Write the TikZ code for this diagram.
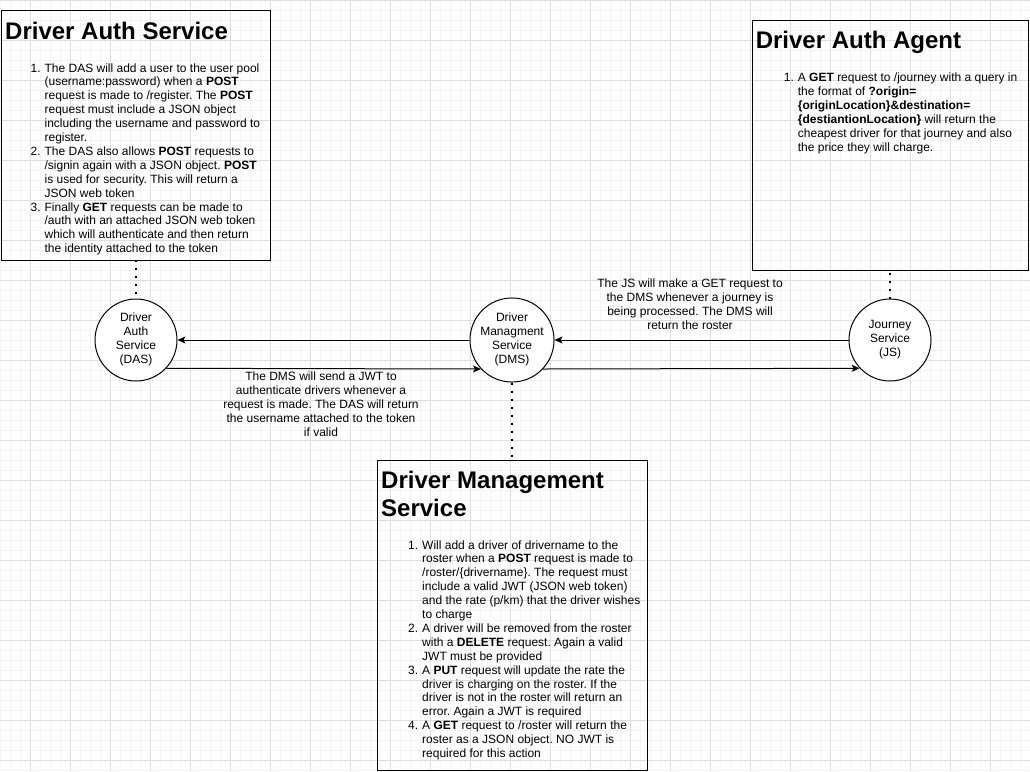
\documentclass[tikz,border=0pt]{standalone}
\usepackage{fontspec}
\setmainfont{Liberation Sans}
\usetikzlibrary{arrows.meta}
\definecolor{gmin}{RGB}{244,244,244}
\definecolor{gmaj}{RGB}{222,222,222}
\newcommand{\fsn}{\fontsize{12}{13.9}\selectfont\frenchspacing}
\newcommand{\fst}{\fontsize{24}{28.4}\selectfont\bfseries}
\newcommand{\itm}[1]{\makebox[14pt][l]{#1}}
\begin{document}
\frenchspacing
\begin{tikzpicture}[x=1pt,y=-1pt,
  box/.style={draw=black, line width=1pt, inner sep=0pt, outer sep=0pt, anchor=north west},
  svc/.style={circle, draw=black, fill=white, line width=1pt, minimum size=82pt, inner sep=0pt, font=\fsn},
  arr/.style={draw=black, line width=1pt, -{Stealth[length=8pt,width=7pt,inset=2pt]}},
  dots/.style={draw=black, line width=2pt, dash pattern=on 2pt off 6pt},
  title/.style={anchor=base west, inner sep=0pt, font=\fst},
  lst/.style={anchor=base west, inner sep=0pt, font=\fsn},
  lbl/.style={inner sep=0pt, font=\fsn}]

\useasboundingbox (0,0) rectangle (1030,771);
\fill[white] (0,0) rectangle (1030,771);
\foreach \x in {0,10,...,1030} \draw[gmin, line width=1pt] (\x+0.5,0) -- (\x+0.5,771);
\foreach \y in {0,10,...,770} \draw[gmin, line width=1pt] (0,\y+0.5) -- (1030,\y+0.5);
\foreach \x in {30,70,...,1010} \draw[gmaj, line width=1pt] (\x+0.5,0) -- (\x+0.5,771);
\foreach \y in {0,40,...,760} \draw[gmaj, line width=1pt] (0,\y+0.5) -- (1030,\y+0.5);

% boxes
\node[box, minimum width=269pt, minimum height=250pt] (dasbox) at (1.5,10) {};
\node[box, minimum width=276pt, minimum height=250pt] (daabox) at (752,20) {};
\node[box, minimum width=270pt, minimum height=310pt] (dmsbox) at (377,460) {};

% titles
\node[title] (dastitle) at (5,39) {Driver Auth Service};
\node[title] (daatitle) at (755.6,48.5) {Driver Auth Agent};
\node[title] (dmstitle) at (381,488) {\begin{tabular}[t]{@{}l@{}}Driver Management\\Service\end{tabular}};

% lists
\node[lst] (daslist) at (30.4,72) {\begin{tabular}[t]{@{}l@{}l@{}}
\itm{1.} & The DAS will add a user to the user pool\\
\itm{} & (username:password) when a \textbf{POST}\\
\itm{} & request is made to /register. The \textbf{POST}\\
\itm{} & request must include a JSON object\\
\itm{} & including the username and password to\\
\itm{} & register.\\
\itm{2.} & The DAS also allows \textbf{POST} requests to\\
\itm{} & /signin again with a JSON object. \textbf{POST}\\
\itm{} & is used for security. This will return a\\
\itm{} & JSON web token\\
\itm{3.} & Finally \textbf{GET} requests can be made to\\
\itm{} & /auth with an attached JSON web token\\
\itm{} & which will authenticate and then return\\
\itm{} & the identity attached to the token
\end{tabular}};

\node[lst] (daalist) at (783.7,81.5) {\begin{tabular}[t]{@{}l@{}l@{}}
\itm{1.} & A \textbf{GET} request to /journey with a query in\\
\itm{} & the format of \textbf{?origin=}\\
\itm{} & \textbf{\{originLocation\}\&destination=}\\
\itm{} & \textbf{\{destiantionLocation\}} will return the\\
\itm{} & cheapest driver for that journey and also\\
\itm{} & the price they will charge.
\end{tabular}};

\node[lst] (dmslist) at (408,549) {\begin{tabular}[t]{@{}l@{}l@{}}
\itm{1.} & Will add a driver of drivername to the\\
\itm{} & roster when a \textbf{POST} request is made to\\
\itm{} & /roster/\{drivername\}. The request must\\
\itm{} & include a valid JWT (JSON web token)\\
\itm{} & and the rate (p/km) that the driver wishes\\
\itm{} & to charge\\
\itm{2.} & A driver will be removed from the roster\\
\itm{} & with a \textbf{DELETE} request. Again a valid\\
\itm{} & JWT must be provided\\
\itm{3.} & A \textbf{PUT} request will update the rate the\\
\itm{} & driver is charging on the roster. If the\\
\itm{} & driver is not in the roster will return an\\
\itm{} & error. Again a JWT is required\\
\itm{4.} & A \textbf{GET} request to /roster will return the\\
\itm{} & roster as a JSON object. NO JWT is\\
\itm{} & required for this action
\end{tabular}};

% services
\node[svc] (das) at (136,340) {\begin{tabular}{@{}c@{}}Driver\\Auth\\Service\\(DAS)\end{tabular}};
\node[svc] (dms) at (512,340) {\begin{tabular}{@{}c@{}}Driver\\Managment\\Service\\(DMS)\end{tabular}};
\node[svc] (js) at (890,340) {\begin{tabular}{@{}c@{}}Journey\\Service\\(JS)\end{tabular}};

% connectors
\draw[arr] (dms.west) -- (das.east);
\draw[arr] (das.-43) -- (dms.-137);
\draw[arr] (js.west) -- (dms.east);
\draw[arr] (dms.-43) -- (js.-137);

\draw[dots] (dasbox.south) -- (das.north);
\draw[dots] (dms.south) -- (dmsbox.north);
\draw[dots] (js.north) -- (daabox.south);

% labels
\node[lbl] (lblauth) at (321,406) {\begin{tabular}{@{}c@{}}The DMS will send a JWT to\\authenticate drivers whenever a\\request is made. The DAS will return\\the username attached to the token\\if valid\end{tabular}};
\node[lbl] (lbljs) at (690,306) {\begin{tabular}{@{}c@{}}The JS will make a GET request to\\the DMS whenever a journey is\\being processed. The DMS will\\return the roster\end{tabular}};
\end{tikzpicture}
\end{document}
